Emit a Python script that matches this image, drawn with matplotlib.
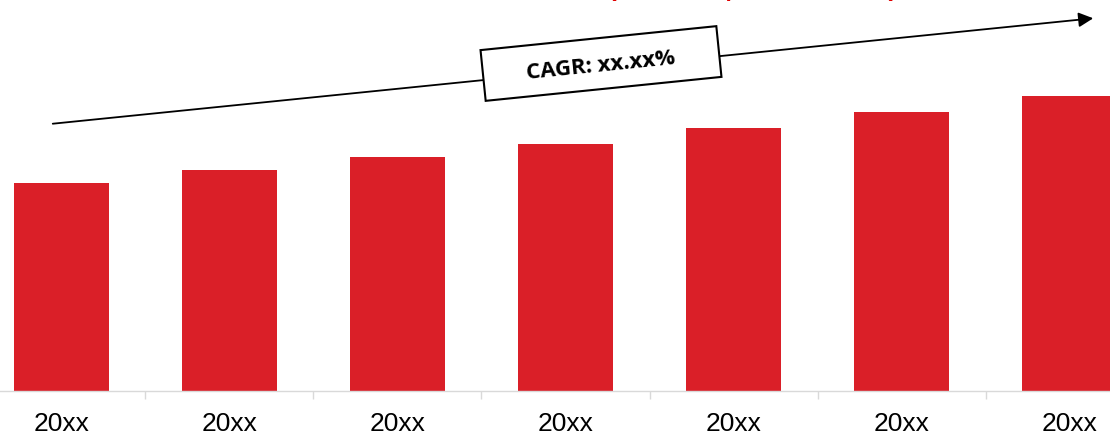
import numpy as np
import matplotlib
matplotlib.use("Agg")
import matplotlib.pyplot as plt
from matplotlib.patches import Polygon, FancyArrowPatch

categories = ["20xx", "20xx", "20xx", "20xx", "20xx", "20xx", "20xx"]
values = [20.8, 22.1, 23.4, 24.7, 26.3, 27.9, 29.5]
cagr_label = "CAGR: xx.xx%"
title = "Market Size (USD Mn, 20XX-20XX)"

W, H = 1110, 435
fig = plt.figure(figsize=(W / 100, H / 100), dpi=100)
ax = fig.add_axes([0, 1 - 392 / H, 1, 392 / H])

x = np.arange(len(categories))
ax.bar(x, values, width=0.565, color="#DA1F28", zorder=2)

ax.set_xticks(x)
ax.set_xticklabels(categories, fontsize=19, family="Liberation Sans", color="black")
ax.set_xticks(np.arange(len(categories) + 1) - 0.5, minor=True)
ax.tick_params(axis="x", which="major", length=0, pad=14.5)
ax.tick_params(axis="x", which="minor", length=5.8, width=1, color="#d9d9d9")
ax.set_yticks([])
ax.set_xlim(-0.366, 6.241)
ax.set_ylim(0, 39.2)
for s in ["top", "right", "left"]:
    ax.spines[s].set_visible(False)
ax.spines["bottom"].set_color("#d9d9d9")
ax.spines["bottom"].set_linewidth(1)
ax.patch.set_alpha(0)


def fx(px):
    return px / W


def fy(py):
    return 1 - py / H


# trend arrow
fig.add_artist(FancyArrowPatch(
    (fx(50), fy(125)), (fx(1096), fy(19)), transform=fig.transFigure,
    arrowstyle="-|>", mutation_scale=22, lw=1.3, color="black", zorder=5))

# rotated CAGR box
cx, cy = 601, 64.5
bw, bh = 237, 51
ang = np.deg2rad(5.8)
corners = np.array([[-bw / 2, -bh / 2], [bw / 2, -bh / 2], [bw / 2, bh / 2], [-bw / 2, bh / 2]])
rot = np.array([[np.cos(ang), -np.sin(ang)], [np.sin(ang), np.cos(ang)]])
pts = corners @ rot.T
pts[:, 0] = (cx + pts[:, 0]) / W
pts[:, 1] = (H - cy + pts[:, 1]) / H
fig.add_artist(Polygon(pts, closed=True, transform=fig.transFigure,
                       facecolor="white", edgecolor="black", lw=1.5, zorder=6))
fig.text(fx(cx), fy(cy + 1), cagr_label, rotation=5.8, rotation_mode="anchor",
         ha="center", va="center", fontsize=16, fontweight="bold",
         family="Open Sans", color="black", zorder=7)

# title, cropped at the top edge as in the reference
fig.text(fx(897), 1 + 3 / H, title, ha="right", va="baseline", fontsize=20,
         fontweight="bold", color="#E00000", family="Open Sans")

fig.savefig("out.png", dpi=100)
